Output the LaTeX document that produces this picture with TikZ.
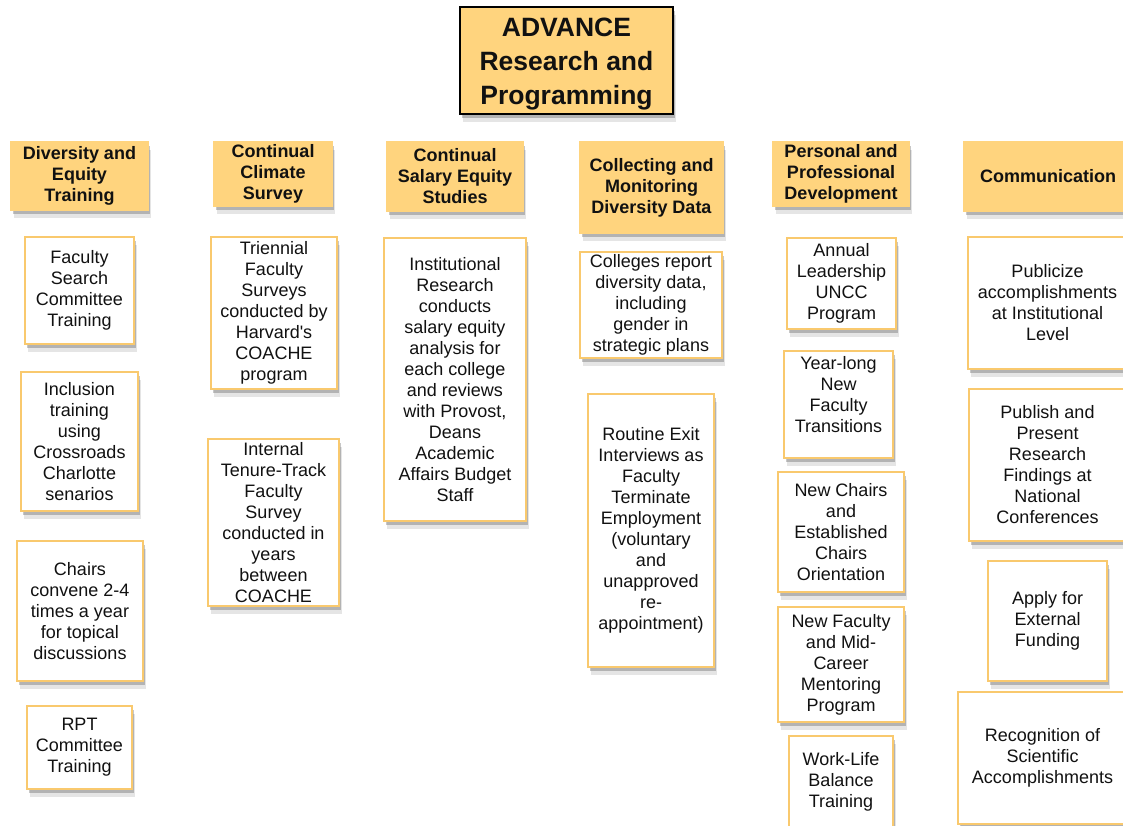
\documentclass[tikz,border=0pt]{standalone}
\usepackage{fontspec}
\setmainfont{Liberation Sans}
\usepackage{tikz}
\usetikzlibrary{shadows}
\definecolor{FontColor}{HTML}{111111}
\definecolor{HeadNC}{HTML}{FFD47E}
\definecolor{LineNC}{HTML}{F9C96E}
\newcommand\nodeadv{\rule{0pt}{26pt}ADVANCE\\Research and\\Programming}
\newcommand\nodedet{Diversity and\\Equity\\Training}
\newcommand\nodeccs{Continual\\Climate\\Survey}
\newcommand\nodeses{Continual\\Salary Equity\\Studies}
\newcommand\nodecmd{Collecting and\\Monitoring\\Diversity Data}
\newcommand\nodeppd{Personal and\\Professional\\Development}
\newcommand\nodecom{Communication}
\newcommand\nodefsc{Faculty\\Search\\Committee\\Training}
\newcommand\nodeitc{Inclusion\\training\\using\\Crossroads\\Charlotte\\senarios}
\newcommand\nodechc{Chairs\\convene 2-4\\times a year\\for topical\\discussions}
\newcommand\noderpt{RPT\\Committee\\Training}
\newcommand\nodetfs{Triennial\\Faculty\\Surveys\\conducted by\\Harvard\textquotesingle s\\COACHE\\program}
\newcommand\nodeitf{Internal\\Tenure-Track\\Faculty\\Survey\\conducted in\\years\\between\\COACHE}
\newcommand\nodeirs{Institutional\\Research\\conducts\\salary equity\\analysis for\\each college\\and reviews\\with Provost,\\Deans\\Academic\\Affairs Budget\\Staff}
\newcommand\nodecrd{Colleges report\\diversity data,\\including\\gender in\\strategic plans}
\newcommand\noderei{Routine Exit\\Interviews as\\Faculty\\Terminate\\Employment\\(voluntary\\and\\unapproved\\re-\\appointment)}
\newcommand\nodealp{Annual\\Leadership\\UNCC\\Program}
\newcommand\nodeynf{Year-long\\New\\Faculty\\Transitions\\~}
\newcommand\nodenco{New Chairs\\and\\Established\\Chairs\\Orientation}
\newcommand\nodenfm{New Faculty\\and Mid-\\Career\\Mentoring\\Program}
\newcommand\nodewlb{Work-Life\\Balance\\Training\\~}
\newcommand\nodepai{Publicize\\accomplishments\\at Institutional\\Level}
\newcommand\nodeppr{Publish and\\Present\\Research\\Findings at\\National\\Conferences}
\newcommand\nodeaef{Apply for\\External\\Funding}
\newcommand\noderos{Recognition of\\Scientific\\Accomplishments}
\tikzstyle{mynodestyle} = [rectangle, align=center, inner sep=0pt, text=FontColor,
  drop shadow={shadow xshift=3pt, shadow yshift=-8pt, fill=black, opacity=0.1},
  drop shadow={shadow xshift=1.5pt, shadow yshift=-4pt, fill=black, opacity=0.22}]
\tikzstyle{tn} = [mynodestyle, draw=black, fill=HeadNC, font=\fontsize{26.5}{34}\selectfont\bfseries]
\tikzstyle{hn} = [mynodestyle, draw=HeadNC, fill=HeadNC, font=\fontsize{18}{21}\selectfont\bfseries]
\tikzstyle{bn} = [mynodestyle, draw=LineNC, fill=white, font=\fontsize{18}{21}\selectfont]
\tikzset{every picture/.style={line width=1.5pt, x=1pt, y=-1pt}}
\begin{document}
\begin{tikzpicture}
\useasboundingbox (0, 0) rectangle (1123, 826);
% top
\node[tn, minimum width=213pt, minimum height=107pt] (adv) at (566.5, 60.5) {\nodeadv};
% headers
\node[hn, minimum width=137pt, minimum height=68pt] (det) at (79.5, 176) {\nodedet};
\node[hn, minimum width=118pt, minimum height=64pt] (ccs) at (273, 174) {\nodeccs};
\node[hn, minimum width=136pt, minimum height=69pt] (ses) at (455, 176.5) {\nodeses};
\node[hn, minimum width=143pt, minimum height=91pt] (cmd) at (651.5, 187.5) {\nodecmd};
\node[hn, minimum width=136pt, minimum height=64pt] (ppd) at (841, 174) {\nodeppd};
\node[hn, minimum width=168pt, minimum height=69pt] (com) at (1048, 176.5) {\nodecom};
% column 1
\node[bn, minimum width=109pt, minimum height=107pt] (fsc) at (79.5, 290.5) {\nodefsc};
\node[bn, minimum width=117pt, minimum height=139pt] (itc) at (79.5, 441.5) {\nodeitc};
\node[bn, minimum width=126pt, minimum height=140pt] (chc) at (80, 611) {\nodechc};
\node[bn, minimum width=105pt, minimum height=83pt] (rpt) at (79.5, 747.5) {\noderpt};
% column 2
\node[bn, minimum width=126pt, minimum height=152pt] (tfs) at (274, 313) {\nodetfs};
\node[bn, minimum width=131pt, minimum height=167pt] (itf) at (273.5, 522.5) {\nodeitf};
% column 3
\node[bn, minimum width=142pt, minimum height=283pt] (irs) at (455, 379.5) {\nodeirs};
% column 4
\node[bn, minimum width=142pt, minimum height=106pt] (crd) at (651, 305) {\nodecrd};
\node[bn, minimum width=126pt, minimum height=273pt] (rei) at (651, 530.5) {\noderei};
% column 5
\node[bn, minimum width=109pt, minimum height=91pt] (alp) at (841.5, 283.5) {\nodealp};
\node[bn, minimum width=109pt, minimum height=107pt] (ynf) at (838.5, 404.5) {\nodeynf};
\node[bn, minimum width=126pt, minimum height=120pt] (nco) at (841, 532) {\nodenco};
\node[bn, minimum width=126pt, minimum height=115pt] (nfm) at (841, 664.5) {\nodenfm};
\node[bn, minimum width=104pt, minimum height=108pt] (wlb) at (841, 790) {\nodewlb};
% column 6
\node[bn, minimum width=159pt, minimum height=132pt] (pai) at (1047.5, 303) {\nodepai};
\node[bn, minimum width=157pt, minimum height=152pt] (ppr) at (1047.5, 465) {\nodeppr};
\node[bn, minimum width=119pt, minimum height=120pt] (aef) at (1047.5, 621) {\nodeaef};
\node[bn, minimum width=169pt, minimum height=132pt] (ros) at (1042.5, 758) {\noderos};
\end{tikzpicture}
\end{document}
